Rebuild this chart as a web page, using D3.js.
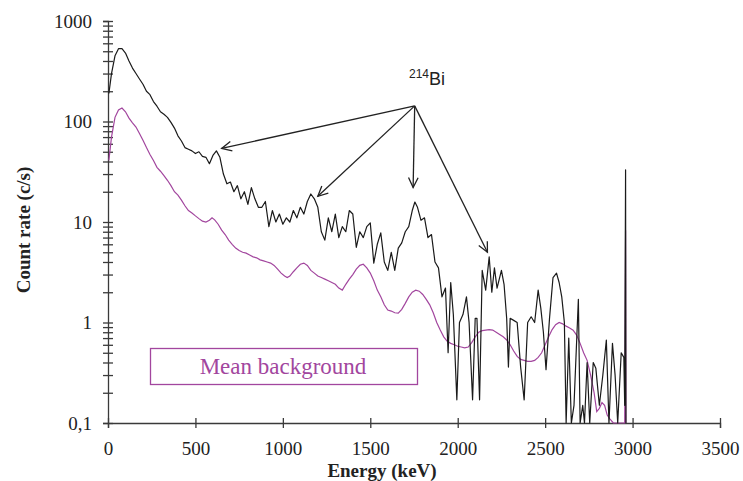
<!DOCTYPE html>
<html>
<head>
<meta charset="utf-8">
<script src="https://cdn.jsdelivr.net/npm/d3@7"></script>
<style>
  body { margin: 0; background: #fff; }
  svg { display: block; }
</style>
</head>
<body>
<svg></svg>
<script>
// measured spectrum (black)
const measEnergy = [5,20,40,60,80,100,120,140,160,180,200,220,240,260,280,300,320,340,360,380,
  400,420,440,460,480,500,520,540,560,580,600,620,640,660,680,700,720,740,760,780,
  800,820,840,860,880,900,920,940,960,980,1000,1020,1040,1060,1080,1100,1120,1140,1160,1180,
  1200,1220,1240,1260,1280,1300,1320,1340,1360,1380,1400,1420,1440,1460,1480,1500,1520,1540,1560,1580,
  1600,1620,1640,1660,1680,1700,1720,1740,1755,1770,1790,1810,1830,1850,1870,1890,1910,1930,1945,1960,
  1975,1995,2010,2030,2050,2065,2085,2100,2110,2125,2140,2160,2180,2195,2210,2225,2250,2265,2280,2290,
  2300,2320,2340,2360,2380,2400,2420,2440,2460,2475,2490,2505,2525,2545,2565,2580,2595,2610,2620,2635,
  2650,2665,2690,2700,2715,2725,2740,2755,2775,2790,2810,2830,2850,2865,2885,2900,2915,2935,2950,2955,
  2960,2962];
const measRate = [190,300,450,530,530,480,400,340,300,265,235,200,185,158,142,125,118,110,98,86,
  72,64,55,53,51,48,50,45,44,38,46,51,44,30,24,25,20,23,17,20,
  15,22,17,14,14,16,9,13,10,12,9.5,11,10,13,11,14,12,16,19,17,
  14,8,6.6,11,8,12,7,9,8,13,12,5.6,8,7,9,9.8,3.9,6,7.8,4,
  3.3,5,3.3,5.5,6.2,8,9,13,15.8,14,10.4,11,7,7.5,4,3.5,1.8,2.2,0.5,2.5,
  1.2,0.17,1.0,1.2,1.8,1.0,0.17,1.1,1.1,0.17,3.3,2.1,4.5,2.0,3.5,2.2,3.3,2.4,1.1,0.36,
  1.1,1.05,1.0,0.36,0.17,1.0,1.14,1.0,2.1,1.4,0.8,0.34,1.1,2.8,3.1,2.5,1.8,1.0,0.1,0.7,
  0.1,0.15,1.7,0.1,0.15,0.1,0.4,0.1,0.4,0.35,0.15,0.3,0.67,0.1,0.62,0.3,0.1,0.5,0.45,0.15,
  33,0.1];

// mean background (purple)
const bgEnergy = [5,20,40,60,80,100,120,140,160,180,200,220,240,260,280,300,320,340,360,380,
  400,420,440,460,480,500,520,540,560,580,595,610,630,650,670,690,710,730,750,770,
  790,810,830,850,870,890,910,930,950,970,990,1010,1025,1040,1060,1080,1100,1120,1140,1160,
  1180,1200,1220,1240,1260,1280,1300,1320,1340,1360,1380,1400,1420,1440,1460,1480,1500,1520,1540,1560,
  1580,1600,1620,1640,1660,1680,1700,1720,1740,1760,1780,1800,1820,1840,1860,1880,1900,1920,1940,1960,
  1980,2000,2020,2040,2060,2080,2100,2120,2140,2160,2180,2200,2220,2240,2260,2280,2300,2320,2340,2360,
  2380,2400,2420,2440,2460,2480,2500,2520,2540,2560,2580,2600,2620,2640,2660,2680,2700,2720,2740,2760,
  2780,2795,2810,2825,2840,2855,2870,2890,2930,2955,2960,2962];
const bgRate = [41,70,110,130,136,125,108,97,88,76,65,55,47,41,35,32,29,26,23,20,
  18.5,16.5,14.5,13,12.3,11.5,10.8,10.2,10,10.4,11,10.5,9.5,8.3,7.5,6.6,6.0,5.5,5.2,5.0,
  4.9,4.7,4.5,4.4,4.2,4.1,4.0,3.9,3.7,3.4,3.1,2.9,2.8,2.9,3.2,3.5,3.8,3.9,3.7,3.3,
  3.1,2.9,2.8,2.7,2.6,2.5,2.4,2.2,2.1,2.4,2.7,3.0,3.4,3.7,3.8,3.5,3.1,2.6,2.1,1.8,
  1.5,1.33,1.3,1.25,1.24,1.35,1.55,1.8,2.0,2.1,2.05,1.9,1.7,1.5,1.25,1.0,0.84,0.72,0.65,0.62,
  0.6,0.58,0.57,0.56,0.57,0.63,0.72,0.8,0.83,0.84,0.85,0.84,0.8,0.76,0.72,0.67,0.6,0.52,0.46,0.43,
  0.42,0.41,0.41,0.42,0.45,0.5,0.6,0.72,0.85,0.95,1.0,0.97,0.92,0.88,0.84,0.75,0.62,0.5,0.42,0.3,
  0.2,0.13,0.14,0.16,0.15,0.12,0.11,0.1,0.1,0.1,8.3,0.1];

const xTicks = [0,500,1000,1500,2000,2500,3000,3500];
const yDecades = [0.1,1,10,100,1000];
const yLabels = ['0,1','1','10','100','1000'];

// 214Bi arrows: origin and tips (keV, c/s)
const arrowFrom = [1754, 143];
const arrowTipX = [650, 1200, 1745, 2170];
const arrowTipY = [54, 18, 22, 5];

const svg = d3.select('svg')
              .attr('width', 743)
              .attr('height', 481);

const x = d3.scaleLinear().domain([0, 3500]).range([108, 720]);
const y = d3.scaleLog().domain([0.1, 1000]).range([423, 21]);

const serif = '"Liberation Serif", "Times New Roman", serif';
const axisColor = '#3a3a3a';
const purple = '#a2469e';

// y minor + major ticks
let yAll = [];
for (let d = 0; d < 4; d++) {
    for (let m = 1; m < 10; m++) yAll.push(m * Math.pow(10, d - 1));
}
yAll.push(1000);

const yAxisL = svg.append('g')
   .attr('transform', `translate(${x(0)},0)`)
   .call(d3.axisLeft(y).tickValues(yAll).tickSize(5).tickPadding(11)
           .tickFormat(d => {
               const i = yDecades.findIndex(v => Math.abs(v - d) < 1e-9);
               return i >= 0 ? yLabels[i] : '';
           }));
const yAxisR = svg.append('g')
   .attr('transform', `translate(${x(0)},0)`)
   .call(d3.axisRight(y).tickValues(yAll).tickSize(5).tickFormat(''));

const xAxisB = svg.append('g')
   .attr('transform', `translate(0,${y(0.1)})`)
   .call(d3.axisBottom(x).tickValues(xTicks).tickSize(5).tickPadding(14).tickFormat(d3.format('d')));
const xAxisT = svg.append('g')
   .attr('transform', `translate(0,${y(0.1)})`)
   .call(d3.axisTop(x).tickValues(xTicks).tickSize(5).tickFormat(''));

[yAxisL, yAxisR, xAxisB, xAxisT].forEach(g => {
    g.selectAll('path, line').attr('stroke', axisColor).attr('stroke-width', 1.3);
    g.selectAll('text').attr('font-family', serif).attr('font-size', 19).attr('fill', '#222');
});
yAxisR.select('.domain').remove();
xAxisT.select('.domain').remove();

// curves
const line = d3.line()
               .x(d => x(d[0]))
               .y(d => y(Math.max(0.1, d[1])));

svg.append('path')
   .datum(bgEnergy.map((e, i) => [e, bgRate[i]]))
   .attr('fill', 'none')
   .attr('stroke', purple)
   .attr('stroke-width', 1.2)
   .attr('d', line);

svg.append('path')
   .datum(measEnergy.map((e, i) => [e, measRate[i]]))
   .attr('fill', 'none')
   .attr('stroke', '#1a1a1a')
   .attr('stroke-width', 1.2)
   .attr('stroke-linejoin', 'round')
   .attr('d', line);

// axis titles
svg.append('text')
   .attr('x', 382)
   .attr('y', 477)
   .attr('text-anchor', 'middle')
   .attr('font-family', serif)
   .attr('font-weight', 'bold')
   .attr('font-size', 19)
   .attr('fill', '#222')
   .text('Energy (keV)');

svg.append('text')
   .attr('transform', 'translate(30,230) rotate(-90)')
   .attr('text-anchor', 'middle')
   .attr('font-family', serif)
   .attr('font-weight', 'bold')
   .attr('font-size', 19)
   .attr('fill', '#222')
   .text('Count rate (c/s)');

// legend box
svg.append('rect')
   .attr('x', 150.5).attr('y', 348.5)
   .attr('width', 267).attr('height', 36)
   .attr('fill', 'none')
   .attr('stroke', purple)
   .attr('stroke-width', 1.3);

svg.append('text')
   .attr('x', 283)
   .attr('y', 374)
   .attr('text-anchor', 'middle')
   .attr('font-family', serif)
   .attr('font-size', 23)
   .attr('fill', purple)
   .text('Mean background');

// 214Bi annotation
const bi = svg.append('text')
   .attr('y', 85)
   .attr('font-family', '"Liberation Sans", Arial, sans-serif')
   .attr('fill', '#222');
bi.append('tspan').attr('font-size', 12).attr('dy', -7).attr('x', 409).text('214');
bi.append('tspan').attr('font-size', 18).attr('dy', 7).text('Bi');

const ox = x(arrowFrom[0]), oy = y(arrowFrom[1]);
arrowTipX.forEach((tx, i) => {
    const px = x(tx), py = y(arrowTipY[i]);
    svg.append('line')
       .attr('x1', ox).attr('y1', oy).attr('x2', px).attr('y2', py)
       .attr('stroke', '#222').attr('stroke-width', 1.3);
    const ang = Math.atan2(py - oy, px - ox);
    const len = 11, spread = 0.45;
    const pts = [
        [px - len * Math.cos(ang - spread), py - len * Math.sin(ang - spread)],
        [px, py],
        [px - len * Math.cos(ang + spread), py - len * Math.sin(ang + spread)]
    ];
    svg.append('path')
       .attr('d', d3.line()(pts))
       .attr('fill', 'none')
       .attr('stroke', '#222')
       .attr('stroke-width', 1.3);
});
</script>
</body>
</html>
